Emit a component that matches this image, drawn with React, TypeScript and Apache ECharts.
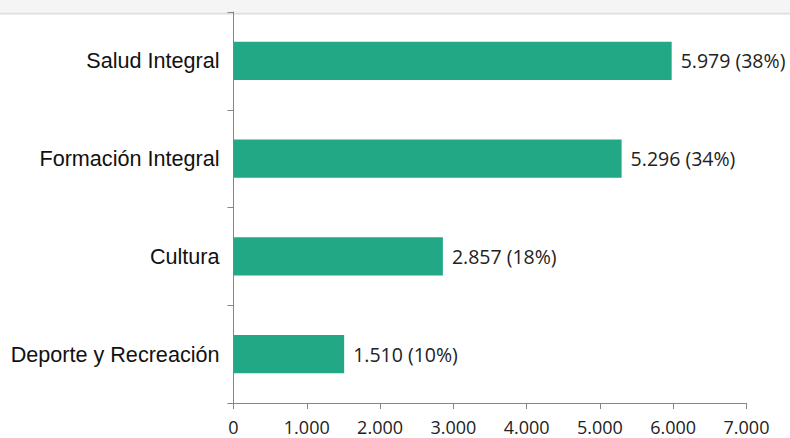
import React, { useEffect, useRef } from "react";
import * as echarts from "echarts";

const categories = ["Salud Integral", "Formación Integral", "Cultura", "Deporte y Recreación"];
const values = [5979, 5296, 2857, 1510];
const percents = [38, 34, 18, 10];
const xTicks = [0, 1000, 2000, 3000, 4000, 5000, 6000, 7000];

const fmt = (v: number) => String(v).replace(/\B(?=(\d{3})+(?!\d))/g, ".");

export default function App() {
  const ref = useRef<HTMLDivElement>(null);
  useEffect(() => {
    if (!ref.current) return;
    const chart = echarts.init(ref.current, null, { renderer: "svg" });
    chart.setOption({
      animation: false,
      backgroundColor: "#ffffff",
      graphic: [
        { type: "rect", z: -10, shape: { x: 0, y: 0, width: 790, height: 12 }, style: { fill: "#f5f5f5" } },
        { type: "rect", z: -10, shape: { x: 0, y: 12.5, width: 790, height: 2 }, style: { fill: "#dedede" } },
      ],
      grid: { left: 233.5, top: 12, right: 43.5, bottom: 35, containLabel: false },
      xAxis: {
        type: "value",
        min: xTicks[0],
        max: xTicks[xTicks.length - 1],
        interval: 1000,
        splitLine: { show: false },
        axisLine: { show: true, lineStyle: { color: "#868686", width: 1 } },
        axisTick: { show: true, length: 6, lineStyle: { color: "#868686" } },
        axisLabel: {
          margin: 15,
          fontFamily: "Open Sans",
          fontSize: 18,
          color: "#222",
          formatter: (v: number) => fmt(v),
        },
      },
      yAxis: {
        type: "category",
        inverse: true,
        data: categories,
        axisLine: { show: true, lineStyle: { color: "#868686", width: 1 } },
        axisTick: { show: true, length: 6, lineStyle: { color: "#868686" } },
        axisLabel: {
          margin: 14,
          fontFamily: "Liberation Sans",
          fontSize: 21.6,
          color: "#111",
        },
      },
      series: [
        {
          type: "bar",
          data: values,
          barWidth: "39%",
          itemStyle: { color: "#22a884" },
          label: {
            show: true,
            position: "right",
            distance: 9,
            fontFamily: "Open Sans",
            fontSize: 19.5,
            color: "#222",
            formatter: (p: any) => `${fmt(p.value)} (${percents[p.dataIndex]}%)`,
          },
        },
      ],
    });
    return () => chart.dispose();
  }, []);
  return (
    <div
      ref={ref}
      style={{ position: "fixed", left: 0, top: 0, width: 790, height: 438, background: "#fff" }}
    />
  );
}
